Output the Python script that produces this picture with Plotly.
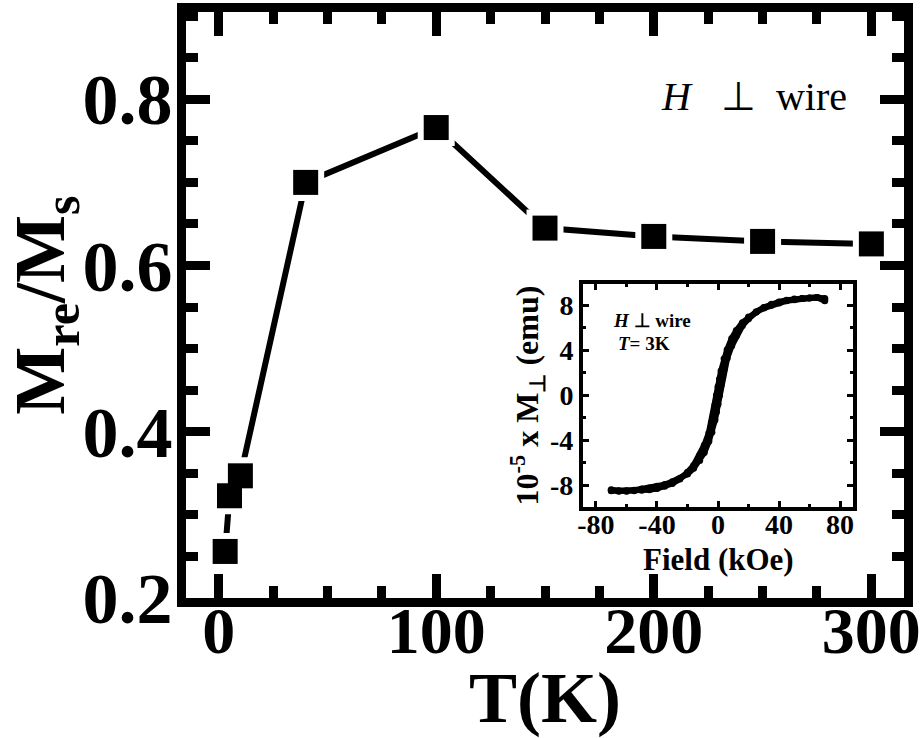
import plotly.graph_objects as go

# Main panel data: remanence ratio vs temperature
temperature_K = [3, 5, 10, 40, 100, 150, 200, 250, 300]
mre_over_ms = [0.256, 0.323, 0.347, 0.700, 0.766, 0.645, 0.635, 0.629, 0.626]

# Inset data: hysteresis loop at T = 3 K (10^-5 emu)
field_up = [-70, -65, -60, -55, -50, -45, -40, -35, -30, -25, -20, -16, -12, -9, -6, -4, -2, -1, 0,
            1, 2, 3, 4, 6, 9, 12, 16, 20, 25, 30, 35, 40, 45, 50, 55, 60, 65, 70]
moment_up = [-8.5, -8.55, -8.5, -8.45, -8.35, -8.25, -8.1, -7.95, -7.7, -7.4, -7.0, -6.5, -5.8, -5.1, -4.1,
             -3.3, -2.2, -1.5, -0.8, 0.0, 0.9, 1.6, 2.3, 3.3, 4.4, 5.3, 6.2, 6.8, 7.4, 7.8, 8.1, 8.3, 8.45,
             8.55, 8.6, 8.65, 8.7, 8.4]
field_down = [70, 65, 60, 55, 50, 45, 40, 35, 30, 25, 20, 16, 12, 9, 6, 4, 2, 1, 0,
              -1, -2, -3, -4, -6, -9, -12, -16, -20, -25, -30, -35, -40, -45, -50, -55, -60, -65, -70]
moment_down = [8.6, 8.7, 8.65, 8.6, 8.5, 8.4, 8.2, 8.0, 7.75, 7.4, 6.95, 6.45, 5.75, 5.05, 4.05, 3.25,
               2.15, 1.45, 0.75, 0.0, -0.9, -1.65, -2.35, -3.35, -4.45, -5.35, -6.25, -6.85, -7.45, -7.85,
               -8.1, -8.3, -8.4, -8.45, -8.5, -8.55, -8.5, -8.4]

main_xticks = [0, 100, 200, 300]
main_yticks = [0.2, 0.4, 0.6, 0.8]
main_yticktext = ["0.2", "0.4", "0.6", "0.8"]
inset_xticks = [-80, -40, 0, 40, 80]
inset_xticktext = ["-80", "-40", "0", "40", "80"]
inset_yticks = [-8, -4, 0, 4, 8]
inset_yticktext = ["-8", "-4", "0", "4", "8"]

SERIF = "Liberation Serif"
NB = "\u00a0"

INSET_X_DOMAIN = [0.5529, 0.929]
INSET_Y_DOMAIN = [0.1561, 0.535]

fig = go.Figure()

# connecting line
fig.add_trace(go.Scatter(x=temperature_K, y=mre_over_ms, mode="lines",
                         line=dict(color="black", width=6), showlegend=False, hoverinfo="skip"))
# white halo squares to create gaps around markers
fig.add_trace(go.Scatter(x=temperature_K, y=mre_over_ms, mode="markers",
                         marker=dict(symbol="square", size=37, color="white"),
                         showlegend=False, hoverinfo="skip"))
# black squares
fig.add_trace(go.Scatter(x=temperature_K, y=mre_over_ms, mode="markers",
                         marker=dict(symbol="square", size=25, color="black"),
                         showlegend=False))

# inset hysteresis loop
for fx, my in ((field_up, moment_up), (field_down, moment_down)):
    fig.add_trace(go.Scatter(x=fx, y=my, mode="lines+markers", xaxis="x2", yaxis="y2",
                             line=dict(color="black", width=6),
                             marker=dict(color="black", size=7),
                             showlegend=False))

big_xtick_font = dict(family=SERIF, size=66, color="black", weight="bold")
big_ytick_font = dict(family=SERIF, size=72, color="black", weight="bold")
small_tick_font = dict(family=SERIF, size=28, color="black", weight="bold")

fig.update_layout(
    width=922, height=738,
    margin=dict(l=186, r=18, t=12, b=140, autoexpand=False),
    plot_bgcolor="white", paper_bgcolor="white",
    font=dict(family=SERIF, color="black"),
    xaxis=dict(
        range=[-15, 315], showgrid=False, zeroline=False,
        showline=True, linecolor="black", linewidth=9, mirror="allticks",
        ticks="inside", ticklen=24, tickwidth=9, tickcolor="black",
        tickvals=main_xticks, tickfont=big_xtick_font,
        ticklabelstandoff=-33, ticklabeloverflow="allow",
        minor=dict(ticks="inside", ticklen=12, tickwidth=9, tickcolor="black", dtick=25, tick0=0),
        title=dict(text="T(K)", font=dict(family=SERIF, size=72, color="black", weight="bold"),
                   standoff=38),
    ),
    yaxis=dict(
        range=[0.2, 0.905], showgrid=False, zeroline=False,
        showline=True, linecolor="black", linewidth=9, mirror="allticks",
        ticks="inside", ticklen=24, tickwidth=9, tickcolor="black",
        tickvals=main_yticks, ticktext=main_yticktext, tickfont=big_ytick_font,
        ticklabelstandoff=-10, ticklabeloverflow="allow",
        minor=dict(ticks="inside", ticklen=12, tickwidth=9, tickcolor="black", dtick=0.05, tick0=0.2),
        title=dict(text="M<sub>re</sub>/M<sub>s</sub>",
                   font=dict(family=SERIF, size=72, color="black", weight="bold"), standoff=8),
    ),
    xaxis2=dict(
        domain=INSET_X_DOMAIN, anchor="y2", range=[-88.5, 88.5],
        showgrid=False, zeroline=False,
        showline=True, linecolor="black", linewidth=4, mirror="allticks",
        ticks="inside", ticklen=6, tickwidth=3, tickcolor="black",
        tickvals=inset_xticks, ticktext=inset_xticktext, tickfont=small_tick_font,
        ticklabelstandoff=-10,
        minor=dict(ticks="inside", ticklen=3, tickwidth=3, tickcolor="black", dtick=20, tick0=0),
    ),
    yaxis2=dict(
        domain=INSET_Y_DOMAIN, anchor="x2", range=[-9.9, 9.85],
        showgrid=False, zeroline=False,
        showline=True, linecolor="black", linewidth=4, mirror="allticks",
        ticks="inside", ticklen=6, tickwidth=3, tickcolor="black",
        tickvals=inset_yticks, ticktext=inset_yticktext, tickfont=small_tick_font,
        minor=dict(ticks="inside", ticklen=3, tickwidth=3, tickcolor="black", dtick=2, tick0=0),
        title=dict(text="10<sup>-5</sup> x M<sub>⊥</sub> (emu)",
                   font=dict(family=SERIF, size=32, color="black", weight="bold"), standoff=2),
    ),
    annotations=[
        dict(text="<i>H</i>" + NB + NB + NB + "⊥" + NB + NB + "wire", xref="paper", yref="paper",
             x=0.659, y=0.855, xanchor="left", yanchor="middle", showarrow=False,
             font=dict(family=SERIF, size=40, color="black")),
        dict(text="<i>H</i> ⊥ wire", xref="paper", yref="paper", x=0.5925, y=0.474,
             xanchor="left", yanchor="middle", showarrow=False,
             font=dict(family=SERIF, size=19, color="black", weight="bold")),
        dict(text="<i>T</i>= 3K", xref="paper", yref="paper", x=0.599, y=0.434,
             xanchor="left", yanchor="middle", showarrow=False,
             font=dict(family=SERIF, size=19, color="black", weight="bold")),
        # inset x-axis title
        dict(text="Field (kOe)", xref="paper", yref="paper",
             x=(INSET_X_DOMAIN[0] + INSET_X_DOMAIN[1]) / 2, y=0.066,
             xanchor="center", yanchor="middle", showarrow=False,
             font=dict(family=SERIF, size=31, color="black", weight="bold")),
    ],
)

fig.write_html("out.html")
